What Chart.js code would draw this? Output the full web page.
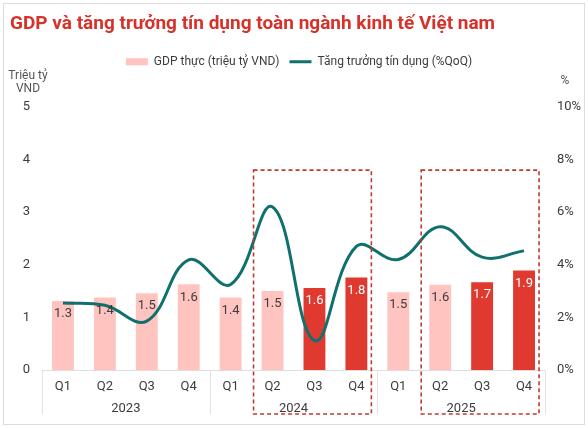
<!DOCTYPE html>
<html>
<head>
<meta charset="utf-8">
<script src="https://cdn.jsdelivr.net/npm/chart.js@4.4.1/dist/chart.umd.min.js"></script>
<style>
  body { margin: 0; background: #fff; }
  #wrap { position: relative; width: 588px; height: 428px; }
</style>
</head>
<body>
<div id="wrap"><canvas id="gdpChart"></canvas></div>
<script>
// Data
const quarters = ['Q1', 'Q2', 'Q3', 'Q4', 'Q1', 'Q2', 'Q3', 'Q4', 'Q1', 'Q2', 'Q3', 'Q4'];
const years = ['2023', '2024', '2025'];
const gdpValues = [1.31, 1.38, 1.46, 1.63, 1.38, 1.50, 1.56, 1.76, 1.48, 1.62, 1.67, 1.89];
const creditGrowth = [2.55, 2.46, 1.86, 4.19, 3.25, 6.2, 1.12, 4.7, 4.2, 5.45, 4.29, 4.53];
const highlightIdx = [6, 7, 10, 11];       // darker bars
const boxRanges = [[5, 7], [9, 11]];       // dashed boxes (first..last index)
const leftTicks = [0, 1, 2, 3, 4, 5];
const rightTicks = [0, 2, 4, 6, 8, 10];

const FONT = 'Roboto';
const TEXT = '#3c3c3c';
const LIGHT_RED = '#ffc4c0';
const DARK_RED = '#e03a30';
const TEAL = '#10706d';

const barColors = gdpValues.map((v, i) => highlightIdx.includes(i) ? DARK_RED : LIGHT_RED);

// background, frame, year groups, axis titles, dashed boxes
const decorPlugin = {
    id: 'decor',
    beforeDraw(chart) {
        const ctx = chart.ctx;
        ctx.save();
        ctx.fillStyle = '#fff';
        ctx.fillRect(0, 0, chart.width, chart.height);
        ctx.strokeStyle = '#dcdcdc';
        ctx.lineWidth = 1;
        ctx.strokeRect(3.5, 3.5, chart.width - 7, chart.height - 7);
        ctx.restore();
    },
    afterDatasetsDraw(chart) {
        const ctx = chart.ctx;
        const x = chart.scales.x;
        const y = chart.scales.y;
        const area = chart.chartArea;
        const step = x.getPixelForValue(1) - x.getPixelForValue(0);
        const bottom = area.bottom + 44;

        ctx.save();
        // group separators
        ctx.strokeStyle = '#e2e2e2';
        ctx.lineWidth = 1;
        for (let g = 0; g <= years.length; g++) {
            const px = Math.round(x.getPixelForValue(g * 4) - step / 2) + 0.5;
            ctx.beginPath();
            ctx.moveTo(px, area.bottom);
            ctx.lineTo(px, bottom);
            ctx.stroke();
        }
        // year labels
        ctx.fillStyle = TEXT;
        ctx.font = '13px ' + FONT;
        ctx.textAlign = 'center';
        ctx.textBaseline = 'middle';
        years.forEach((yr, g) => {
            const cx = (x.getPixelForValue(g * 4 + 1) + x.getPixelForValue(g * 4 + 2)) / 2;
            ctx.fillText(yr, cx, area.bottom + 39);
        });

        // bar value labels
        const meta = chart.getDatasetMeta(0);
        ctx.font = '13px ' + FONT;
        meta.data.forEach((bar, i) => {
            ctx.fillStyle = highlightIdx.includes(i) ? '#fff' : TEXT;
            ctx.fillText(gdpValues[i].toFixed(1), bar.x, bar.y + 13);
        });

        // axis titles
        ctx.fillStyle = '#555';
        ctx.font = '12px ' + FONT;
        ctx.fillText('Triệu tỷ', 28, 76);
        ctx.fillText('VND', 28, 89);
        ctx.fillText('%', 565, 81);

        // dashed boxes
        ctx.strokeStyle = '#c0392f';
        ctx.lineWidth = 1.6;
        ctx.setLineDash([4, 3]);
        const top = y.getPixelForValue(3.8);
        boxRanges.forEach(([a, b]) => {
            const left = x.getPixelForValue(a) - 19;
            const right = x.getPixelForValue(b) + 15;
            ctx.strokeRect(left, top, right - left, bottom - top);
        });
        ctx.restore();
    }
};

const ctx = document.getElementById('gdpChart').getContext('2d');
const chart = new Chart(ctx, {
    type: 'bar',
    data: {
        labels: quarters,
        datasets: [{
            type: 'bar',
            label: 'GDP thực (triệu tỷ VND)',
            data: gdpValues,
            backgroundColor: barColors,
            yAxisID: 'y',
            categoryPercentage: 0.58,
            barPercentage: 0.9,
            order: 2
        }, {
            type: 'line',
            label: 'Tăng trưởng tín dụng (%QoQ)',
            data: creditGrowth,
            borderColor: TEAL,
            backgroundColor: TEAL,
            borderWidth: 3,
            pointRadius: 0,
            tension: 0.4,
            yAxisID: 'y1',
            order: 1
        }]
    },
    options: {
        responsive: true,
        maintainAspectRatio: false,
        animation: false,
        layout: { padding: { left: 10, right: 0, top: 0, bottom: 0 } },
        plugins: {
            title: {
                display: true,
                text: 'GDP và tăng trưởng tín dụng toàn ngành kinh tế Việt nam',
                align: 'start',
                color: '#d8312a',
                font: { family: FONT, size: 19, weight: 'bold' },
                padding: { top: 13, bottom: 10 }
            },
            subtitle: {
                display: true,
                text: '',
                weight: 500,
                font: { size: 1 },
                padding: { top: 0, bottom: 28 }
            },
            legend: {
                labels: {
                    usePointStyle: true,
                    pointStyleWidth: 22,
                    boxHeight: 7,
                    padding: 10,
                    color: TEXT,
                    font: { family: FONT, size: 12 },
                    generateLabels(c) {
                        return [{
                            text: c.data.datasets[0].label,
                            fillStyle: LIGHT_RED,
                            strokeStyle: LIGHT_RED,
                            lineWidth: 0,
                            pointStyle: 'rect',
                            fontColor: TEXT,
                            datasetIndex: 0
                        }, {
                            text: c.data.datasets[1].label,
                            fillStyle: TEAL,
                            strokeStyle: TEAL,
                            lineWidth: 3,
                            pointStyle: 'line',
                            fontColor: TEXT,
                            datasetIndex: 1
                        }];
                    }
                }
            },
            tooltip: { enabled: false }
        },
        scales: {
            x: {
                grid: { display: false, drawTicks: false },
                border: { display: true, color: '#dedede' },
                ticks: { color: TEXT, font: { family: FONT, size: 13 }, padding: 9, maxRotation: 0 },
                afterFit(scale) { scale.height = 58; }
            },
            y: {
                position: 'left',
                min: 0,
                max: 5,
                afterBuildTicks(scale) { scale.ticks = leftTicks.map(v => ({ value: v })); },
                grid: { display: false, drawTicks: false },
                border: { display: false },
                ticks: { color: TEXT, font: { family: FONT, size: 13 }, padding: 12 },
                afterFit(scale) { scale.width = 32; }
            },
            y1: {
                position: 'right',
                min: 0,
                max: 10,
                afterBuildTicks(scale) { scale.ticks = rightTicks.map(v => ({ value: v })); },
                grid: { display: false, drawTicks: false },
                border: { display: false },
                ticks: {
                    color: TEXT,
                    font: { family: FONT, size: 13 },
                    padding: 12,
                    callback: v => v + '%'
                },
                afterFit(scale) { scale.width = 43; }
            }
        }
    },
    plugins: [decorPlugin]
});
</script>
</body>
</html>
